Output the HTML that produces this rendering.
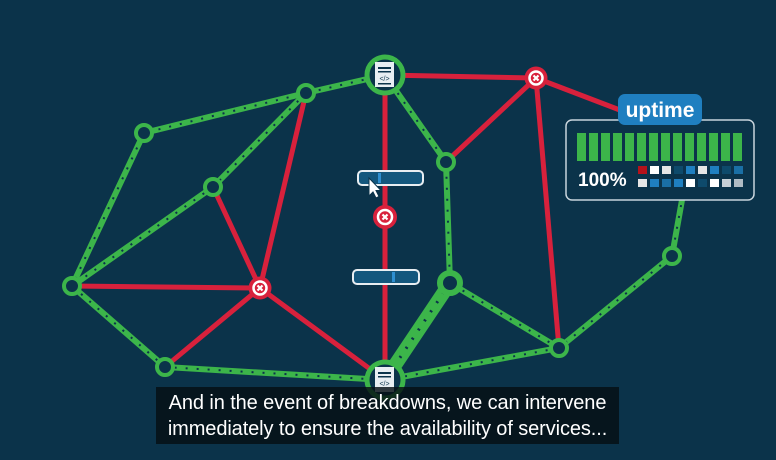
<!DOCTYPE html><html><head><meta charset="utf-8"><style>
body{margin:0;width:776px;height:460px;overflow:hidden;background:#0b334a;font-family:"Liberation Sans",sans-serif}
svg{position:absolute;left:0;top:0}
.cap{position:absolute;left:156px;top:387px;width:463px;height:57px;background:rgba(5,15,20,.82);color:#fff;font-size:20px;line-height:26px;text-align:center;padding-top:3px;box-sizing:border-box;letter-spacing:-0.1px}
</style></head><body>
<svg width="776" height="460">
<g stroke="#d8213c" stroke-width="5" fill="none">
<line x1="385" y1="75" x2="536" y2="78"/><line x1="536" y1="78" x2="446" y2="162"/><line x1="536" y1="78" x2="559" y2="348"/><line x1="536" y1="78" x2="625" y2="112"/>
<line x1="385" y1="75" x2="385" y2="380"/>
<line x1="306" y1="93" x2="260" y2="288"/><line x1="213" y1="187" x2="260" y2="288"/><line x1="72" y1="286" x2="260" y2="288"/><line x1="260" y1="288" x2="385" y2="380"/><line x1="165" y1="367" x2="260" y2="288"/>
</g>
<g stroke="#3cb54a" stroke-width="6" fill="none">
<path d="M385 75L306 93L144 133L72 286L165 367L385 380L559 348L672 256L682 200"/>
<path d="M306 93L213 187L72 286"/>
<path d="M385 75L446 162L450 283L559 348"/>
<line x1="450" y1="283" x2="385" y2="380" stroke-width="14"/>
</g>
<g stroke="#0b334a" stroke-width="2" stroke-dasharray="2 9" fill="none">
<path d="M385 75L306 93L144 133L72 286L165 367L385 380L559 348L672 256L682 200"/>
<path d="M306 93L213 187L72 286"/>
<path d="M385 75L446 162L450 283L559 348"/>
<line x1="450" y1="283" x2="385" y2="380" stroke-width="3"/>
</g>
<g fill="#0b334a" stroke="#3cb54a" stroke-width="4">
<circle cx="306" cy="93" r="8"/><circle cx="144" cy="133" r="8"/><circle cx="213" cy="187" r="8"/><circle cx="72" cy="286" r="8"/><circle cx="165" cy="367" r="8"/><circle cx="446" cy="162" r="8"/><circle cx="559" cy="348" r="8"/><circle cx="672" cy="256" r="8"/>
<circle cx="450" cy="283" r="10" stroke-width="6"/>
<circle cx="385" cy="75" r="18" stroke-width="5"/><circle cx="385" cy="380" r="18" stroke-width="5"/>
</g>
<g>
<rect x="375" y="62" width="19" height="25" fill="#e8eef2"/><rect x="378" y="67" width="13" height="2" fill="#0b334a"/><rect x="378" y="71" width="13" height="1.5" fill="#0b334a"/><text x="384.5" y="81" font-size="7" text-anchor="middle" fill="#0b334a">&lt;/&gt;</text><rect x="378" y="83" width="13" height="1.5" fill="#0b334a"/>
<rect x="375" y="367" width="19" height="25" fill="#e8eef2"/><rect x="378" y="372" width="13" height="2" fill="#0b334a"/><rect x="378" y="376" width="13" height="1.5" fill="#0b334a"/><text x="384.5" y="386" font-size="7" text-anchor="middle" fill="#0b334a">&lt;/&gt;</text>
</g>
<g fill="#d8213c">
<circle cx="536" cy="78" r="11.5"/><circle cx="260" cy="288" r="11.5"/><circle cx="385" cy="217" r="12"/>
</g>
<g fill="none" stroke="#fff" stroke-width="2.5">
<circle cx="536" cy="78" r="6.5"/><circle cx="260" cy="288" r="6.5"/><circle cx="385" cy="217" r="7"/>
<path d="M533.5 75.5l5 5m0-5l-5 5M257.5 285.5l5 5m0-5l-5 5M382.5 214.5l5 5m0-5l-5 5" stroke-width="2.2"/>
</g>
<rect x="358" y="171" width="65" height="14" rx="4" fill="#14577d" stroke="#e8eef2" stroke-width="2"/>
<rect x="378" y="173" width="3" height="10" fill="#2f8fd0"/>
<path d="M369 178l0 18l4-4l3 6l3-1.5l-3-6l5 0z" fill="#fff" stroke="#0b334a" stroke-width="1"/>
<rect x="353" y="270" width="66" height="14" rx="4" fill="#14577d" stroke="#e8eef2" stroke-width="2"/>
<rect x="392" y="272" width="3" height="10" fill="#2f8fd0"/>
<rect x="566" y="120" width="188" height="80" rx="6" fill="#0b334a" stroke="#c8d4dc" stroke-width="1.5"/>
<rect x="618" y="94" width="84" height="31" rx="7" fill="#1f7fc0"/>
<text x="660" y="117" font-size="21" font-weight="bold" fill="#fff" text-anchor="middle">uptime</text>
<g fill="#3cb54a">
<rect x="577" y="133" width="9" height="28"/><rect x="589" y="133" width="9" height="28"/><rect x="601" y="133" width="9" height="28"/><rect x="613" y="133" width="9" height="28"/><rect x="625" y="133" width="9" height="28"/><rect x="637" y="133" width="9" height="28"/><rect x="649" y="133" width="9" height="28"/><rect x="661" y="133" width="9" height="28"/><rect x="673" y="133" width="9" height="28"/><rect x="685" y="133" width="9" height="28"/><rect x="697" y="133" width="9" height="28"/><rect x="709" y="133" width="9" height="28"/><rect x="721" y="133" width="9" height="28"/><rect x="733" y="133" width="9" height="28"/>
</g>
<text x="578" y="186" font-size="19" font-weight="bold" fill="#fff">100%</text>
<g>
<rect x="638" y="166" width="9" height="8" fill="#b5121b"/><rect x="650" y="166" width="9" height="8" fill="#fff"/><rect x="662" y="166" width="9" height="8" fill="#e6e6e6"/><rect x="674" y="166" width="9" height="8" fill="#0e4a6b"/><rect x="686" y="166" width="9" height="8" fill="#1f7fc0"/><rect x="698" y="166" width="9" height="8" fill="#e6e6e6"/><rect x="710" y="166" width="9" height="8" fill="#1f7fc0"/><rect x="722" y="166" width="9" height="8" fill="#0e4a6b"/><rect x="734" y="166" width="9" height="8" fill="#1a6fa5"/>
<rect x="638" y="179" width="9" height="8" fill="#e6e6e6"/><rect x="650" y="179" width="9" height="8" fill="#1f7fc0"/><rect x="662" y="179" width="9" height="8" fill="#1a6fa5"/><rect x="674" y="179" width="9" height="8" fill="#1f7fc0"/><rect x="686" y="179" width="9" height="8" fill="#fff"/><rect x="698" y="179" width="9" height="8" fill="#0e4a6b"/><rect x="710" y="179" width="9" height="8" fill="#fff"/><rect x="722" y="179" width="9" height="8" fill="#c8d0d6"/><rect x="734" y="179" width="9" height="8" fill="#b0bcc4"/>
</g>
</svg>
<div class="cap">And in the event of breakdowns, we can intervene<br>immediately to ensure the availability of services...</div>
</body></html>
